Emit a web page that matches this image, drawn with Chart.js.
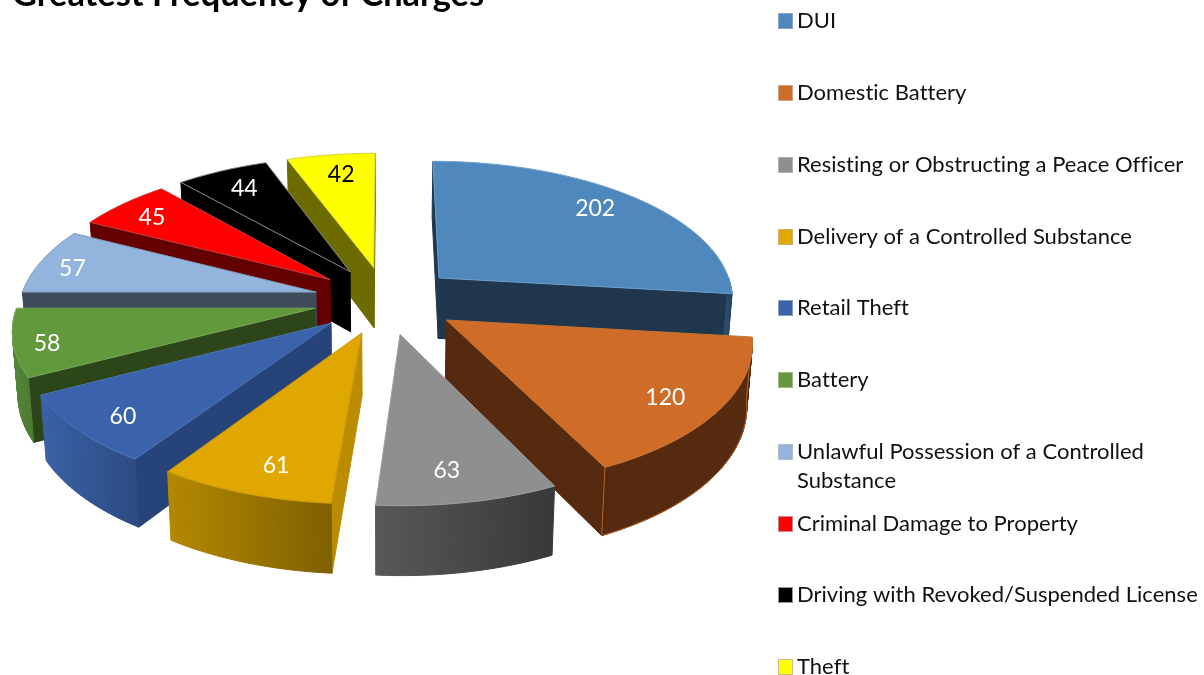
<!DOCTYPE html>
<html>
<head>
<meta charset="utf-8">
<style>
html,body{margin:0;padding:0;background:#fff;overflow:hidden;width:1204px;height:675px}
#wrap{position:absolute;left:0;top:-40px;width:1204px;height:715px}
</style>
<script src="https://cdn.jsdelivr.net/npm/chart.js@4"></script>
</head>
<body>
<div id="wrap"><canvas id="c" width="1204" height="715"></canvas></div>
<script>
const categories = ["DUI","Domestic Battery","Resisting or Obstructing a Peace Officer","Delivery of a Controlled Substance","Retail Theft","Battery","Unlawful Possession of a Controlled Substance","Criminal Damage to Property","Driving with Revoked/Suspended License","Theft"];
const values = [202,120,63,61,60,58,57,45,44,42];
const topColors = ["#4F88BD","#CF6C27","#8F8F8F","#E0A700","#3A63AB","#62993D","#93B4DD","#FF0000","#000000","#FFFF00"];
const faceColors = ["#1F364D","#552A0F","#3B3B3B","#BC8C00","#26437A","#2C4619","#3F4A5A","#640000","#000000","#6B6B00"];
const wallLeftColors = ["#2F5272","#552A0F","#585858","#B48800","#3A62A8","#55873A","#5A7CA5","#8A0000","#000000","#7A7A00"];
const wallRightColors = ["#26425E","#552A0F","#383838","#7F6000","#2B4A80","#4A7A30","#4A6A90","#7A0000","#000000","#6B6B00"];
const edgeColors = ["#6F9FCC","#C8742F","#A0A0A0","#C99A10","#5075B5","#76A855","#7E9CC0","#C04040","#8A8A8A","#D8D040"];
const labelColors = ["#fff","#fff","#fff","#fff","#fff","#fff","#fff","#fff","#fff","#000"];
const labelNudgeX = [-4,2,-7,7,-7,-25,-20,-8,0,3];
const labelNudgeY = [-3,6,4,6,9,7,2,0,0,0];
const legendRows = [21,93,165,237,308,380,452,524,595,667];
const legendLines = [["DUI"],["Domestic Battery"],["Resisting or Obstructing a Peace Officer"],["Delivery of a Controlled Substance"],["Retail Theft"],["Battery"],["Unlawful Possession of a Controlled","Substance"],["Criminal Damage to Property"],["Driving with Revoked/Suspended License"],["Theft"]];
const swatchBorders = ["#8AA5BF","#C7A58C","#B0B0B0","#CDB26E","#8A9CBF","#9DB38C","#B0BCCB","#C78C8C","#999999","#CDB98C"];

const FONT = 'Lato, "Open Sans", sans-serif';
const SHIFT = 40;
const CX=386, CY=300, SX=296, SY=138, PERSP=0.135, EXPLODE=0.245, TAPER=0.015;

function proj(u,v,z){
  const w=1/(1-PERSP*v);
  const depth=60+(w-0.97)*43;
  return [CX+SX*u*w*(1-TAPER*z), CY+SY*v*w+depth*z];
}
function pt(mid,a,r,z){
  const u=EXPLODE*Math.sin(mid)+r*Math.sin(a);
  const v=-EXPLODE*Math.cos(mid)-r*Math.cos(a);
  return proj(u,v,z);
}
function poly(ctx,pts){
  ctx.beginPath();
  pts.forEach((p,i)=>i?ctx.lineTo(p[0],p[1]):ctx.moveTo(p[0],p[1]));
  ctx.closePath();
}
function area(pts){
  let s=0;
  for(let i=0;i<pts.length;i++){
    const a=pts[i],b=pts[(i+1)%pts.length];
    s+=a[0]*b[1]-b[0]*a[1];
  }
  return s;
}
function arcPts(mid,a0,a1,z){
  const n=Math.max(2,Math.ceil((a1-a0)/(Math.PI/180)));
  const out=[];
  for(let i=0;i<=n;i++) out.push(pt(mid,a0+(a1-a0)*i/n,1,z));
  return out;
}

const pie3d={
  id:'pie3d',
  beforeDatasetDraw(chart,args){
    const ctx=chart.ctx;
    const meta=chart.getDatasetMeta(0);
    const slices=meta.data.map((el,i)=>{
      const a0=el.startAngle+Math.PI/2, a1=el.endAngle+Math.PI/2;
      return {i,a0,a1,mid:(a0+a1)/2};
    });
    const order=slices.slice().sort((s,t)=>(-Math.cos(s.mid))-(-Math.cos(t.mid)));
    ctx.save();
    ctx.translate(0,SHIFT);
    ctx.lineJoin='round';
    ctx.lineWidth=1;
    for(const s of order){
      const {i,a0,a1,mid}=s;
      // radial cut faces
      const faceFor=(a,sign)=>{
        const q=[pt(mid,a,0,0),pt(mid,a,1,0),pt(mid,a,1,1),pt(mid,a,0,1)];
        if(area(q)*sign>0){
          poly(ctx,q);
          ctx.fillStyle=faceColors[i];ctx.fill();
          ctx.strokeStyle=faceColors[i];ctx.stroke();
        }
      };
      faceFor(a0,-1);
      faceFor(a1,1);
      // outer wall, front-facing part only, swept step by step
      const wa=Math.max(a0,Math.PI/2), wb=Math.min(a1,Math.PI*1.5);
      if(wb>wa){
        const t=arcPts(mid,wa,wb,0), b=arcPts(mid,wa,wb,1);
        const xs=t.concat(b).map(p=>p[0]);
        const g=ctx.createLinearGradient(Math.min(...xs),0,Math.max(...xs),0);
        g.addColorStop(0,wallLeftColors[i]);
        g.addColorStop(1,wallRightColors[i]);
        ctx.fillStyle=g;ctx.strokeStyle=g;
        for(let k=0;k<t.length-1;k++){
          poly(ctx,[t[k],t[k+1],b[k+1],b[k]]);
          ctx.fill();ctx.stroke();
        }
        if(i===1){
          ctx.strokeStyle='#B5642A';
          poly(ctx,t.concat(b.slice().reverse()));
          ctx.stroke();
        }
      }
      // top surface
      const q=[pt(mid,a0,0,0)].concat(arcPts(mid,a0,a1,0));
      poly(ctx,q);
      ctx.fillStyle=topColors[i];ctx.fill();
      ctx.strokeStyle=edgeColors[i];ctx.stroke();
    }
    // value labels
    ctx.textAlign='center';
    ctx.textBaseline='middle';
    ctx.font='23px '+FONT;
    for(const s of slices){
      const p=pt(s.mid,s.mid,0.81,0);
      ctx.fillStyle=labelColors[s.i];
      ctx.fillText(String(values[s.i]),p[0]+labelNudgeX[s.i],p[1]+labelNudgeY[s.i]);
    }
    ctx.restore();
    return false;
  },
  afterDraw(chart){
    const ctx=chart.ctx;
    ctx.save();
    ctx.translate(0,SHIFT);
    ctx.textAlign='left';
    ctx.textBaseline='middle';
    ctx.font='22px '+FONT;
    ctx.letterSpacing='0.02px';
    categories.forEach((c,i)=>{
      const y=legendRows[i];
      ctx.fillStyle=topColors[i];
      ctx.fillRect(778.5,y-7,14,14);
      ctx.strokeStyle=swatchBorders[i];
      ctx.lineWidth=1;
      ctx.strokeRect(778.5,y-7.5,14,15);
      ctx.fillStyle='#111';
      legendLines[i].forEach((line,k)=>ctx.fillText(line,797,y+k*29));
    });
    ctx.restore();
  }
};

new Chart(document.getElementById('c'),{
  type:'pie',
  data:{labels:categories,datasets:[{data:values,backgroundColor:topColors,borderWidth:0}]},
  plugins:[pie3d],
  options:{
    responsive:false,
    animation:false,
    layout:{padding:{left:12}},
    plugins:{
      legend:{display:false},
      tooltip:{enabled:false},
      title:{display:true,text:"Greatest Frequency of Charges",align:'start',color:'#000',
        font:{family:FONT,size:34.4,weight:'bold'},padding:{top:14,bottom:10}}
    }
  }
});
</script>
</body>
</html>
